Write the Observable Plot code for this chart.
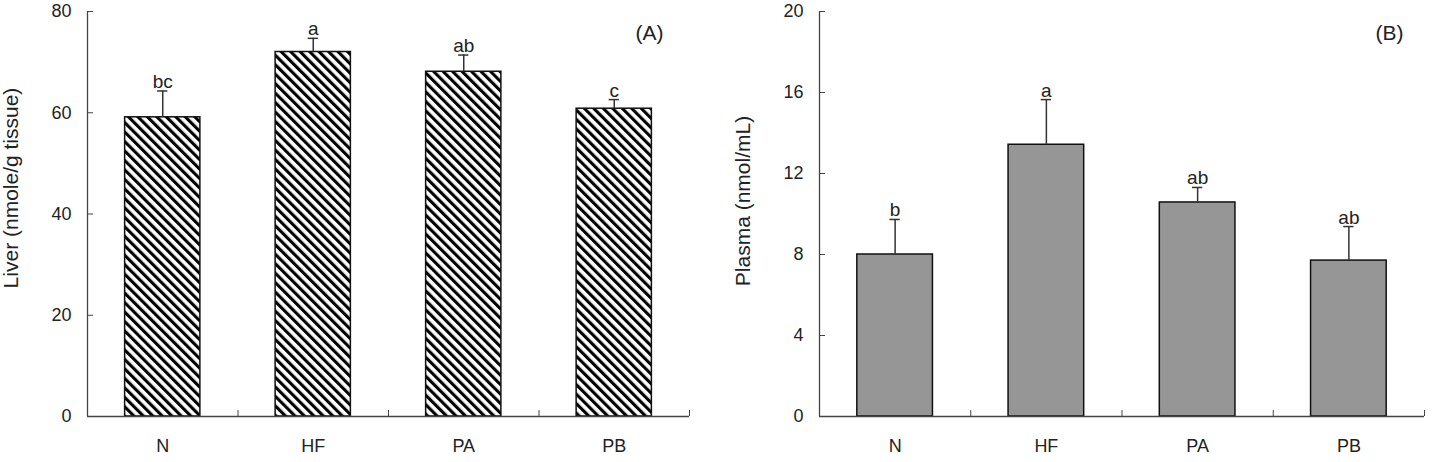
<!DOCTYPE html>
<html>
<head>
<meta charset="utf-8">
<script src="https://cdn.jsdelivr.net/npm/d3@7"></script>
<script src="https://cdn.jsdelivr.net/npm/@observablehq/plot@0.6"></script>
<style>
  body { margin: 0; background: #fff; }
  #wrap { display: flex; width: 1434px; height: 462px; }
  svg { display: block; }
</style>
</head>
<body>
<div id="wrap"></div>
<script>
// Treatment groups
const groups = ["N", "HF", "PA", "PB"];

// (A) Liver content, nmole/g tissue: mean and SE
const liverMean = [59.1, 72.0, 68.1, 60.8];
const liverSE = [5.2, 2.7, 3.3, 1.8];
const liverLetters = ["bc", "a", "ab", "c"];
const liverTicks = [0, 20, 40, 60, 80];

// (B) Plasma content, nmol/mL: mean and SE
const plasmaMean = [8.0, 13.42, 10.57, 7.7];
const plasmaSE = [1.73, 2.23, 0.74, 1.68];
const plasmaLetters = ["b", "a", "ab", "ab"];
const plasmaTicks = [0, 4, 8, 12, 16, 20];

const FONT = "'Liberation Sans', Arial, Helvetica, sans-serif";
const INK = "#222";
const AXIS = "#444";
const CAP = 0.034; // half-width of error-bar caps, in group units

function panel({mean, se, letters, ticks, title, tag, fill, marginLeft, marginRight, titleDx, titleDy, tagDx}) {
  const rows = groups.map((g, i) => ({g, i, mean: mean[i], top: mean[i] + se[i], letter: letters[i]}));
  const n = groups.length;
  return Plot.plot({
    width: 717,
    height: 462,
    marginTop: 11,
    marginBottom: 46,
    marginLeft,
    marginRight,
    style: {fontFamily: FONT, fontSize: "18px", color: INK, background: "#fff"},
    x: {type: "linear", domain: [0, n], label: null},
    y: {domain: [ticks[0], ticks[ticks.length - 1]], label: null},
    marks: [
      // bars
      Plot.rect(rows, {
        x1: d => d.i + 0.25, x2: d => d.i + 0.75, y1: 0, y2: "mean",
        fill, stroke: "#111", strokeWidth: 1.5
      }),
      // error bars (upper half) with caps
      Plot.ruleX(rows, {x: d => d.i + 0.5, y1: "mean", y2: "top", stroke: "#333", strokeWidth: 1.5}),
      Plot.ruleY(rows, {y: "top", x1: d => d.i + 0.5 - CAP, x2: d => d.i + 0.5 + CAP, stroke: "#333", strokeWidth: 1.5}),
      // significance letters
      Plot.text(rows, {x: d => d.i + 0.5, y: "top", text: "letter", lineAnchor: "bottom", dy: -3, fontSize: 19, fill: INK}),
      // axis lines
      Plot.ruleX([0], {stroke: AXIS, strokeWidth: 1.3}),
      Plot.ruleY([0], {stroke: AXIS, strokeWidth: 1.3}),
      // y axis: inward ticks and labels
      Plot.axisY({ticks, tickSize: -6, tickPadding: 22, stroke: AXIS, fill: INK, label: null}),
      // x axis: inward ticks at group boundaries
      Plot.axisX({ticks: d3.range(1, n + 1), tickSize: -6, tickFormat: () => "", stroke: AXIS, label: null}),
      // x axis: group names
      Plot.axisX({ticks: d3.range(n).map(i => i + 0.5), tickFormat: d => groups[Math.floor(d)], tickSize: 0, tickPadding: 23, fill: INK, label: null}),
      // y-axis title
      Plot.text([title], {frameAnchor: "left", rotate: -90, dx: titleDx, dy: titleDy, textAnchor: "middle", lineAnchor: "middle", fontSize: 21, fill: INK}),
      // panel tag
      Plot.text([tag], {frameAnchor: "top-right", dx: tagDx, dy: 28, textAnchor: "end", lineAnchor: "bottom", fontSize: 21, fill: INK})
    ]
  });
}

function addHatch(svg, id) {
  const s = 6.7;
  const pat = d3.select(svg).insert("defs", ":first-child")
    .append("pattern")
    .attr("id", id)
    .attr("patternUnits", "userSpaceOnUse")
    .attr("width", s)
    .attr("height", s)
    .attr("patternTransform", "rotate(-45)");
  pat.append("rect").attr("width", s).attr("height", s).attr("fill", "#fff");
  pat.append("rect").attr("width", 3.1).attr("height", s).attr("fill", "#000");
}

const liverPlot = panel({
  mean: liverMean, se: liverSE, letters: liverLetters, ticks: liverTicks,
  title: "Liver (nmole/g tissue)", tag: "(A)", fill: "url(#hatch-liver)",
  marginLeft: 87, marginRight: 28, titleDx: -76, titleDy: -26, tagDx: -26
});
addHatch(liverPlot, "hatch-liver");

const plasmaPlot = panel({
  mean: plasmaMean, se: plasmaSE, letters: plasmaLetters, ticks: plasmaTicks,
  title: "Plasma (nmol/mL)", tag: "(B)", fill: "#969696",
  marginLeft: 102, marginRight: 10, titleDx: -76, titleDy: -13, tagDx: -21
});

const wrap = document.getElementById("wrap");
wrap.append(liverPlot, plasmaPlot);
</script>
</body>
</html>
